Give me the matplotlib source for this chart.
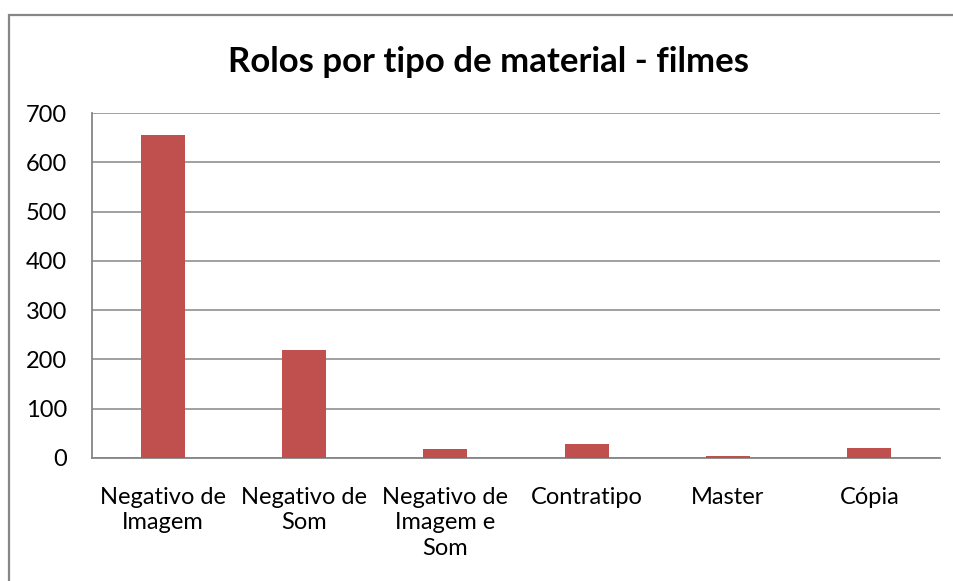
import matplotlib
matplotlib.use("Agg")
import matplotlib.pyplot as plt
from matplotlib.patches import Rectangle

categories = ["Negativo de\nImagem", "Negativo de\nSom", "Negativo de\nImagem e\nSom",
              "Contratipo", "Master", "Cópia"]
rolos = [655, 220, 18, 29, 4, 20]
yticks = [0, 100, 200, 300, 400, 500, 600, 700]

plt.rcParams["font.family"] = ["Lato", "DejaVu Sans"]

W, H = 954, 581
fig = plt.figure(figsize=(W / 100, H / 100), dpi=100)
ax = fig.add_axes([92 / W, 1 - 458 / H, 848 / W, 345 / H])

# chart area border (only top and left edges are visible in the crop)
fig.patches.append(Rectangle((9.5 / W, -0.1), 1.2, 1 - 14.5 / H + 0.1,
                             transform=fig.transFigure, fill=False,
                             edgecolor="#868686", lw=1.6))

x = list(range(len(categories)))
ax.bar(x, rolos, width=0.31, color="#C0504D", zorder=3)

ax.set_xlim(-0.5, len(categories) - 0.5)
ax.set_ylim(0, 700)
ax.set_yticks(yticks)
ax.set_xticks(x)
ax.set_xticklabels(categories, fontsize=17, linespacing=1.25)
ax.tick_params(axis="y", labelsize=17, length=0, pad=18)
ax.tick_params(axis="x", length=0, pad=21)
ax.grid(axis="y", color="#868686", lw=1.1, zorder=0)

for s in ["top", "right"]:
    ax.spines[s].set_visible(False)
for s in ["left", "bottom"]:
    ax.spines[s].set_color("#868686")
    ax.spines[s].set_linewidth(1.3)

fig.text(489 / W, 1 - 62 / H, "Rolos por tipo de material - filmes",
         ha="center", va="center", fontsize=25, fontweight="bold")

fig.savefig("out.png", dpi=100)
